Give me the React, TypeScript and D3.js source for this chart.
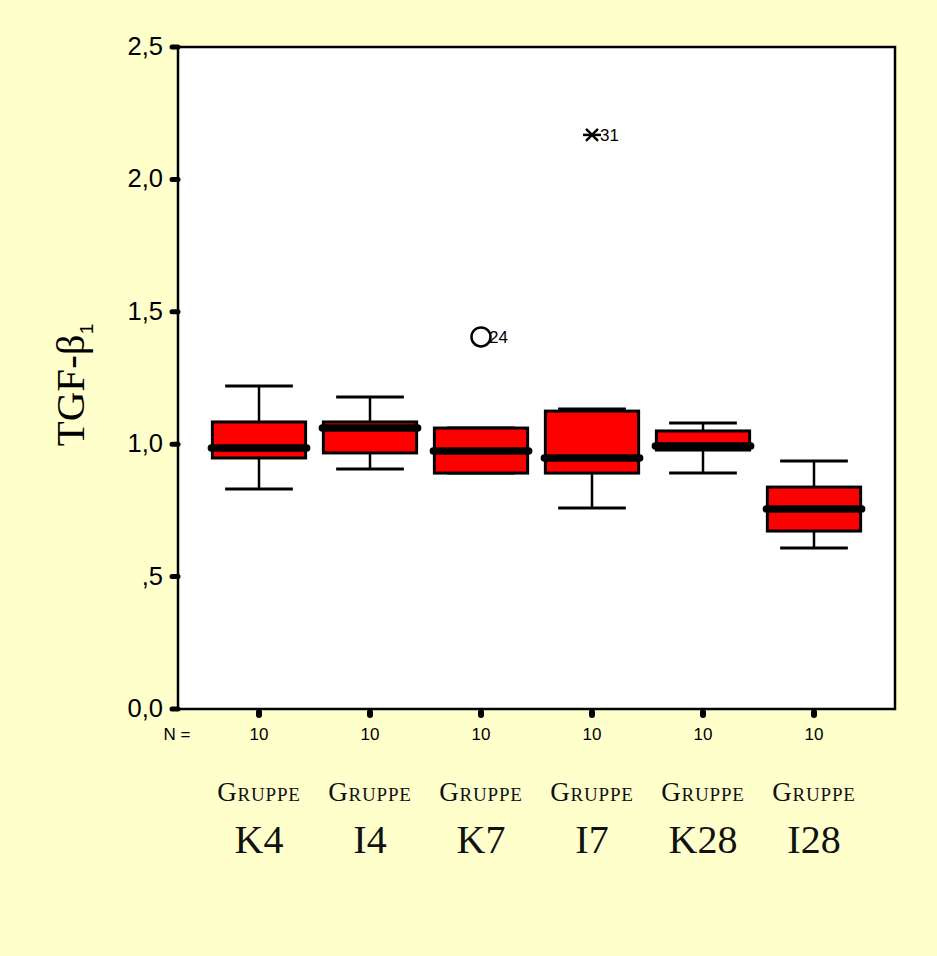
import React from "react";
import * as d3 from "d3";

const groups = ["K4", "I4", "K7", "I7", "K28", "I28"];
const nCounts = [10, 10, 10, 10, 10, 10];
const whiskerHigh = [1.22, 1.178, 1.061, 1.133, 1.08, 0.937];
const q3 = [1.084, 1.084, 1.061, 1.125, 1.05, 0.838];
const medians = [0.986, 1.061, 0.974, 0.948, 0.993, 0.755];
const q1 = [0.948, 0.967, 0.891, 0.891, 0.978, 0.672];
const whiskerLow = [0.831, 0.906, 0.891, 0.759, 0.891, 0.608];
const outliers = [{ group: "K7", value: 1.405, label: "24", kind: "circle" }];
const extremes = [{ group: "I7", value: 2.168, label: "31", kind: "star" }];
const yTicks = [0, 0.5, 1.0, 1.5, 2.0, 2.5];
const yTickLabels = ["0,0", ",5", "1,0", "1,5", "2,0", "2,5"];

const W = 937, H = 956;
const left = 178, right = 895, top = 47, bottom = 709;

export default function App() {
  const y = d3.scaleLinear().domain([0, 2.5]).range([bottom, top]);
  const x = d3.scaleBand<string>().domain(groups).range([left + 25.5, right - 25.5]).paddingInner(0).paddingOuter(0);
  const bw = x.bandwidth();
  const boxW = bw * 0.84;
  const capW = bw * 0.61;
  const cx = (g: string) => (x(g) as number) + bw / 2;
  const sans = "Arial, 'Liberation Sans', sans-serif";
  const serif = "'Liberation Serif', 'Times New Roman', serif";

  return (
    <svg width={W} height={H} style={{ position: "absolute", left: 0, top: 0, display: "block" }}>
      <rect x={0} y={0} width={W} height={H} fill="#FFFFCC" />
      <rect x={left} y={top} width={right - left} height={bottom - top} fill="#FFFFFF" stroke="#000" strokeWidth={2.5} />

      {/* y ticks */}
      {yTicks.map((t, i) => (
        <g key={"yt" + i}>
          <line x1={left - 6} x2={left} y1={y(t)} y2={y(t)} stroke="#000" strokeWidth={5} strokeLinecap="round" />
          <text x={left - 15} y={y(t) + 8} textAnchor="end" fontFamily={sans} fontSize={25.5} fill="#000">{yTickLabels[i]}</text>
        </g>
      ))}

      {/* y title */}
      <text transform={`translate(84, 385) rotate(-90)`} textAnchor="middle" fontFamily={serif} fontSize={41} fill="#000">
        TGF-β<tspan fontFamily={sans} fontSize={19} dy={9}>1</tspan>
      </text>

      {/* boxes */}
      {groups.map((g, i) => {
        const c = cx(g);
        return (
          <g key={g}>
            <line x1={c} x2={c} y1={y(whiskerHigh[i])} y2={y(q3[i])} stroke="#000" strokeWidth={2.5} />
            <line x1={c} x2={c} y1={y(q1[i])} y2={y(whiskerLow[i])} stroke="#000" strokeWidth={2.5} />
            <line x1={c - capW / 2} x2={c + capW / 2} y1={y(whiskerHigh[i])} y2={y(whiskerHigh[i])} stroke="#000" strokeWidth={3} />
            <line x1={c - capW / 2} x2={c + capW / 2} y1={y(whiskerLow[i])} y2={y(whiskerLow[i])} stroke="#000" strokeWidth={3} />
            <rect x={c - boxW / 2} y={y(q3[i])} width={boxW} height={y(q1[i]) - y(q3[i])} fill="#FF0000" stroke="#000" strokeWidth={3} />
            <line x1={c - boxW / 2 - 1} x2={c + boxW / 2 + 1} y1={y(medians[i])} y2={y(medians[i])} stroke="#000" strokeWidth={7.5} strokeLinecap="round" />
            {/* x tick */}
            <line x1={c} x2={c} y1={bottom + 3} y2={bottom + 6} stroke="#000" strokeWidth={6} strokeLinecap="round" />
            <text x={c} y={740} textAnchor="middle" fontFamily={sans} fontSize={17} fill="#000">{nCounts[i]}</text>
            <text x={c} y={801} textAnchor="middle" fontFamily={serif} fontSize={27} fill="#111" style={{ fontVariant: "small-caps" }} letterSpacing={0.8}>Gruppe</text>
            <text x={c} y={853} textAnchor="middle" fontFamily={serif} fontSize={40} fill="#111">{g}</text>
          </g>
        );
      })}

      <text x={177} y={740} textAnchor="middle" fontFamily={sans} fontSize={17} fill="#000">N =</text>

      {outliers.map((o, i) => {
        const c = cx(o.group);
        return (
          <g key={"o" + i}>
            <circle cx={c} cy={y(o.value)} r={9.5} fill="none" stroke="#000" strokeWidth={2.5} />
            <text x={c + 8} y={y(o.value) + 6} fontFamily={sans} fontSize={17} fill="#000">{o.label}</text>
          </g>
        );
      })}
      {extremes.map((o, i) => {
        const c = cx(o.group);
        const cy = y(o.value);
        return (
          <g key={"e" + i} stroke="#000" strokeWidth={2.5}>
            <line x1={c - 9} x2={c + 9} y1={cy} y2={cy} />
            <line x1={c - 6} x2={c + 6} y1={cy - 6} y2={cy + 6} />
            <line x1={c - 6} x2={c + 6} y1={cy + 6} y2={cy - 6} />
            <text x={c + 8} y={cy + 6} stroke="none" fontFamily={sans} fontSize={17} fill="#000">{o.label}</text>
          </g>
        );
      })}
    </svg>
  );
}
